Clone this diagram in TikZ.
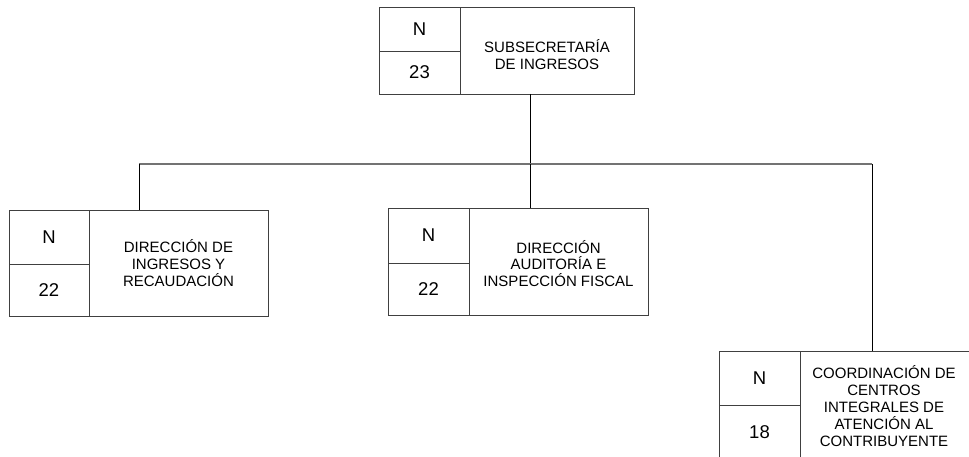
\documentclass[tikz,border=0pt]{standalone}
\usepackage{fontspec}
\setmainfont{Liberation Sans}
\begin{document}
\begin{tikzpicture}[x=1pt,y=-1pt,
  cell/.style={draw=black!75, line width=0.9pt, inner sep=0pt, outer sep=0pt, anchor=north west},
  numfont/.style={font=\fontsize{18.5}{21}\selectfont},
  labtext/.style={font=\fontsize{15}{16.9}\selectfont, align=center, inner sep=0pt},
  conn/.style={draw=black, line width=0.9pt},
  bus/.style={draw=black!55, line width=1.3pt}]
\useasboundingbox (0,0) rectangle (969,457);
% top box
\node[cell,numfont,minimum width=81pt,minimum height=44pt] (tN) at (379,7) {N};
\node[cell,numfont,minimum width=81pt,minimum height=43pt] (tV) at (379,51) {23};
\node[cell,minimum width=174pt,minimum height=87pt] (tL) at (460,7) {};
\node[labtext] (tLt) at ([yshift=-4pt]tL.center) {SUBSECRETARÍA\\DE INGRESOS};
% left box
\node[cell,numfont,minimum width=80pt,minimum height=54pt] (lN) at (9,210) {N};
\node[cell,numfont,minimum width=80pt,minimum height=52pt] (lV) at (9,264) {22};
\node[cell,minimum width=179pt,minimum height=106pt] (lL) at (89,210) {};
\node[labtext] (lLt) at (lL.center) {DIRECCIÓN DE\\INGRESOS Y\\RECAUDACIÓN};
% middle box
\node[cell,numfont,minimum width=81pt,minimum height=55pt] (mN) at (388,208) {N};
\node[cell,numfont,minimum width=81pt,minimum height=52pt] (mV) at (388,263) {22};
\node[cell,minimum width=179pt,minimum height=107pt] (mL) at (469,208) {};
\node[labtext] (mLt) at ([yshift=-2pt]mL.center) {DIRECCIÓN\\AUDITORÍA E\\INSPECCIÓN FISCAL};
% right box (runs past the right edge of the picture)
\node[cell,numfont,minimum width=81pt,minimum height=54pt] (rN) at (719,351) {N};
\node[cell,numfont,minimum width=81pt,minimum height=54pt] (rV) at (719,405) {18};
\node[cell,minimum width=180pt,minimum height=108pt] (rL) at (800,351) {};
\node[labtext] (rLt) at ([xshift=-6pt,yshift=-1pt]rL.center) {COORDINACIÓN DE\\CENTROS\\INTEGRALES DE\\ATENCIÓN AL\\CONTRIBUYENTE};
% connectors
\coordinate (j) at (530,164);
\coordinate (bl) at (139,164);
\coordinate (br) at (872,164);
\draw[conn] (tL.south -| j) -- (j);
\draw[bus] (bl) -- (br);
\draw[conn] (bl) -- (bl |- lL.north);
\draw[conn] (j) -- (j |- mL.north);
\draw[conn] (br) -- (br |- rL.north);
\end{tikzpicture}
\end{document}
